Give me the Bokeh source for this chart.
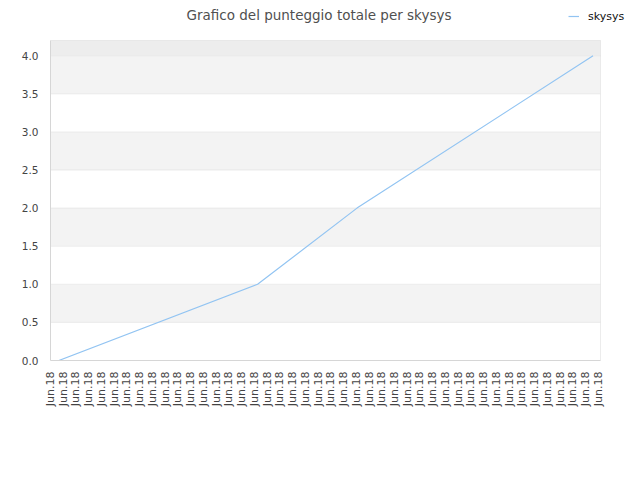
import math
from bokeh.plotting import figure
from bokeh.models import (Range1d, LinearAxis, FixedTicker, BoxAnnotation,
                          Legend, LegendItem, NumeralTickFormatter, Label)
from bokeh.embed import file_html
from bokeh.resources import INLINE

# ---- data ----
date_labels = ["Jun.18"] * 44
point_index = [0, 16, 24, 43]
total_score = [0.0, 1.0, 2.0, 4.0]
y_ticks = [0.0, 0.5, 1.0, 1.5, 2.0, 2.5, 3.0, 3.5, 4.0]
series_name = "skysys"
title_text = "Grafico del punteggio totale per skysys"

FONT = "DejaVu Sans"
X_LEFT, X_RIGHT = -0.67, 43.6      # visible plot-area extent (index units)
Y_TOP = 4.2                        # visible plot-area top
BORDER = "#d6d6d6"

p = figure(width=640, height=480, output_backend="svg", toolbar_location=None,
           x_range=Range1d(X_LEFT, 46.82), y_range=Range1d(0, 4.725),
           min_border_left=50, min_border_right=0, min_border_top=0,
           min_border_bottom=120)
p.title.text = ""
p.title.standoff = 0

p.background_fill_color = "white"
p.border_fill_color = "white"
p.outline_line_color = None
p.xgrid.visible = False
p.ygrid.visible = False

# alternating bands
edges = y_ticks + [Y_TOP]
for i in range(len(edges) - 1):
    lo, hi = edges[i], edges[i + 1]
    if hi > 4.0:
        fill = "#ededed"
    elif i % 2 == 1:
        fill = "#f3f3f3"
    else:
        fill = "#ffffff"
    p.add_layout(BoxAnnotation(bottom=lo, top=hi, right=X_RIGHT,
                               fill_color=fill, fill_alpha=1, line_alpha=0,
                               level="underlay"))
# horizontal grid lines (band outlines, drawn after all fills)
for i in range(len(edges) - 1):
    p.add_layout(BoxAnnotation(bottom=edges[i], top=edges[i + 1], right=X_RIGHT,
                               fill_alpha=0, line_color="#e2e2e2", line_width=1,
                               level="underlay"))
# plot-area border (top/right); left/bottom come from the axis lines
p.add_layout(BoxAnnotation(bottom=0, top=Y_TOP, right=X_RIGHT, fill_alpha=0,
                           line_color=BORDER, line_width=1, level="underlay"))

# main x axis hidden
p.xaxis.visible = False

# label axis on its own range
p.extra_x_ranges = {"lab": Range1d(0, 46.31)}
lab_axis = LinearAxis(x_range_name="lab",
                      ticker=FixedTicker(ticks=list(range(len(date_labels)))),
                      major_label_overrides={i: s for i, s in enumerate(date_labels)},
                      bounds=(0, 43.17))
lab_axis.major_label_orientation = math.pi / 2
lab_axis.axis_line_color = BORDER
lab_axis.major_tick_line_color = None
lab_axis.major_tick_out = 0
lab_axis.major_tick_in = 0
lab_axis.minor_tick_line_color = None
lab_axis.major_label_standoff = 11
lab_axis.major_label_text_font = FONT
lab_axis.major_label_text_font_size = "11px"
lab_axis.major_label_text_color = "#444444"
p.add_layout(lab_axis, "below")

ya = p.yaxis[0]
ya.ticker = FixedTicker(ticks=y_ticks)
ya.formatter = NumeralTickFormatter(format="0.0")
ya.bounds = (0, Y_TOP)
ya.axis_line_color = BORDER
ya.major_tick_line_color = None
ya.major_tick_out = 0
ya.major_tick_in = 0
ya.minor_tick_line_color = None
ya.major_label_standoff = 12
ya.major_label_text_font = FONT
ya.major_label_text_font_size = "10.5px"
ya.major_label_text_color = "#444444"

r = p.line(point_index, total_score, line_color="#92c4f2", line_width=1.2)

legend = Legend(items=[LegendItem(label=series_name, renderers=[r])],
                location=(518, 337), orientation="vertical")
legend.background_fill_alpha = 0
legend.border_line_color = None
legend.padding = 0
legend.margin = 0
legend.glyph_width = 11
legend.glyph_height = 14
legend.label_height = 14
legend.label_standoff = 9
legend.label_text_font = FONT
legend.label_text_font_size = "11px"
legend.label_text_color = "#111111"
p.add_layout(legend, "center")

title = Label(x=136, y=346, x_units="screen", y_units="screen", text=title_text,
              text_align="left", text_baseline="middle", text_font=FONT,
              text_font_size="13.5px", text_color="#505050")
p.add_layout(title)

open("out.html", "w").write(file_html(p, INLINE))
